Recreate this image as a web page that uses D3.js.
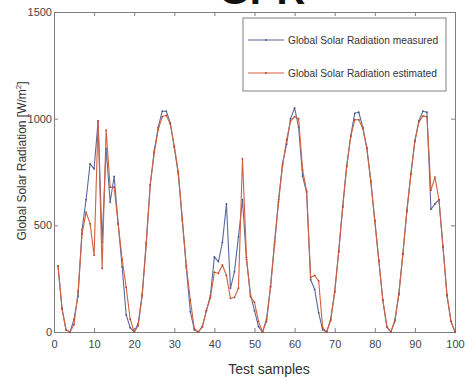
<!DOCTYPE html>
<html lang="en">
<head>
   <meta charset="UTF-8">
   <title>Global Solar Radiation</title>
   <style>
      body {
         margin: 0;
         background: #fff;
      }

      text {
         font-family: 'Liberation Sans', Arial, sans-serif;
         fill: #333;
      }

      .tick line, .domain {
         stroke: #808080;
      }

      .tick text {
         font-size: 11px;
         fill: #444;
      }

      .legend text {
         font-size: 10.2px;
      }
   </style>
   <script src="https://cdn.jsdelivr.net/npm/d3@7/dist/d3.min.js"></script>
</head>
<body>
   <div class="chart"></div>
   <script>
      // data, samples 1..100
      const samples = d3.range(1, 101)

      const measured = [
         310, 110, 10, 0, 60, 168, 480, 620, 788, 765,
         990, 420, 860, 609, 729, 508, 305, 80, 20, 0,
         40, 180, 420, 690, 850, 960, 1035, 1035, 980, 865,
         740, 520, 300, 95, 10, 0, 25, 100, 170, 352,
         330, 420, 600, 205, 283, 446, 620, 340, 175, 100,
         25, 0, 60, 215, 420, 620, 790, 880, 1000, 1050,
         960, 730, 655, 245, 200, 90, 10, 0, 60, 190,
         380, 590, 780, 920, 1025, 1030, 960, 866, 710, 523,
         336, 150, 25, 0, 56, 180, 367, 570, 741, 897,
         990, 1035, 1030, 575, 600, 620, 400, 170, 50, 0
      ]

      const estimated = [
         310, 110, 10, 0, 35, 190, 460, 562, 508, 360,
         990, 298, 946, 679, 679, 508, 340, 210, 60, 0,
         30, 170, 410, 690, 840, 950, 1010, 1015, 975, 870,
         750, 530, 310, 150, 15, 0, 25, 100, 160, 280,
         275, 314, 265, 158, 162, 205, 812, 350, 165, 140,
         50, 0, 50, 210, 410, 610, 780, 900, 990, 1010,
         1000, 760, 660, 255, 265, 240, 20, 0, 55, 185,
         375, 585, 775, 915, 995, 995, 955, 860, 705, 520,
         335, 150, 25, 0, 50, 175, 365, 565, 740, 895,
         985, 1012, 1010, 665, 726, 620, 400, 175, 50, 0
      ]

      const xTicks = [0, 10, 20, 30, 40, 50, 60, 70, 80, 90, 100]
      const yTicks = [0, 500, 1000, 1500]

      const seriesNames = ['Global Solar Radiation measured', 'Global Solar Radiation estimated']
      const seriesColors = ['#5a6a9c', '#d2613f']

      // setup
      const WIDTH = 465, HEIGHT = 378
      const plot = { left: 54, right: 455, top: 12, bottom: 332 }

      const svg = d3.select('.chart').append('svg')
         .attr('width', WIDTH)
         .attr('height', HEIGHT)

      // scales
      const xScale = d3.scaleLinear().domain([0, 100]).range([plot.left, plot.right])
      const yScale = d3.scaleLinear().domain([0, 1500]).range([plot.bottom, plot.top])

      // heading of the page above, cut by the top edge as in the source image
      svg.append('text')
         .attr('x', 262)
         .attr('y', 4)
         .attr('text-anchor', 'middle')
         .style('font-size', '40px')
         .style('font-weight', 'bold')
         .style('fill', '#111')
         .text('GPR')

      svg.append('rect')
         .attr('x', plot.left)
         .attr('y', plot.top)
         .attr('width', plot.right - plot.left)
         .attr('height', plot.bottom - plot.top)
         .attr('fill', '#fff')

      // axes, matlab style: inward ticks on every side
      svg.append('g')
         .attr('transform', `translate(0, ${plot.bottom})`)
         .call(d3.axisBottom(xScale).tickValues(xTicks).tickFormat(d3.format('d'))
            .tickSize(-4).tickSizeOuter(0).tickPadding(8))

      svg.append('g')
         .attr('transform', `translate(0, ${plot.top})`)
         .call(d3.axisTop(xScale).tickValues(xTicks).tickSize(-4).tickSizeOuter(0).tickFormat(''))

      svg.append('g')
         .attr('transform', `translate(${plot.left}, 0)`)
         .call(d3.axisLeft(yScale).tickValues(yTicks).tickFormat(d3.format('d'))
            .tickSize(-4).tickSizeOuter(0).tickPadding(2))

      svg.append('g')
         .attr('transform', `translate(${plot.right}, 0)`)
         .call(d3.axisRight(yScale).tickValues(yTicks).tickSize(-4).tickSizeOuter(0).tickFormat(''))

      // series
      const line = d3.line()
         .x((d, i) => xScale(samples[i]))
         .y(d => yScale(d))

      ;[measured, estimated].forEach((values, k) => {
         svg.append('path')
            .datum(values)
            .attr('fill', 'none')
            .attr('stroke', seriesColors[k])
            .attr('stroke-width', 1.1)
            .attr('stroke-linejoin', 'round')
            .attr('d', line)

         svg.append('g')
            .selectAll('circle')
            .data(values)
            .enter()
            .append('circle')
            .attr('cx', (d, i) => xScale(samples[i]))
            .attr('cy', d => yScale(d))
            .attr('r', 0.9)
            .attr('fill', d3.color(seriesColors[k]).darker(0.6))
      })

      // legend
      const legend = svg.append('g').attr('class', 'legend')

      legend.append('rect')
         .attr('x', 243)
         .attr('y', 18)
         .attr('width', 203)
         .attr('height', 73)
         .attr('fill', '#fff')
         .attr('stroke', '#808080')

      seriesNames.forEach((name, k) => {
         const ly = 40 + k * 33
         legend.append('line')
            .attr('x1', 248)
            .attr('x2', 284)
            .attr('y1', ly)
            .attr('y2', ly)
            .attr('stroke', seriesColors[k])
            .attr('stroke-width', 1.1)
         legend.append('circle')
            .attr('cx', 266)
            .attr('cy', ly)
            .attr('r', 0.9)
            .attr('fill', d3.color(seriesColors[k]).darker(0.6))
         legend.append('text')
            .attr('x', 288)
            .attr('y', ly + 3.6)
            .text(name)
      })

      // axis labels
      svg.append('text')
         .attr('x', 269)
         .attr('y', 374)
         .attr('text-anchor', 'middle')
         .style('font-size', '14px')
         .text('Test samples')

      const yLabel = svg.append('text')
         .attr('transform', 'translate(26, 161) rotate(-90)')
         .attr('text-anchor', 'middle')
         .style('font-size', '12px')
      yLabel.append('tspan').text('Global Solar Radiation [W/m')
      yLabel.append('tspan').attr('dy', -5).style('font-size', '8px').text('2')
      yLabel.append('tspan').attr('dy', 5).text(']')
   </script>
</body>
</html>
